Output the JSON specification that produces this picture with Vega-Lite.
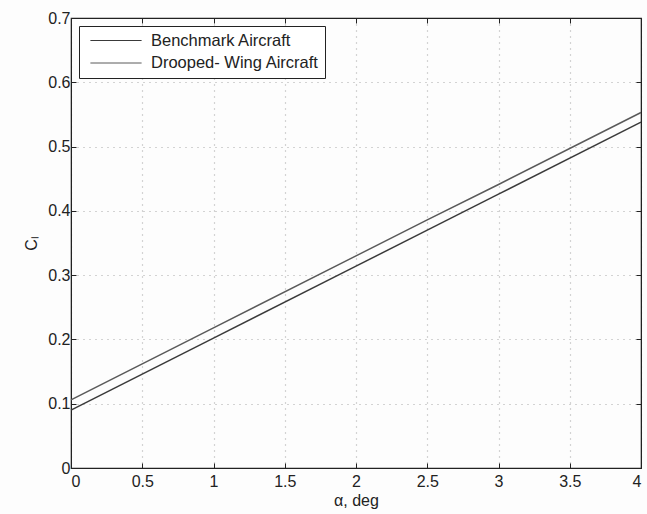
{
  "$schema": "https://vega.github.io/schema/vega-lite/v6.json",
  "width": 570,
  "height": 450,
  "autosize": "none",
  "padding": {"left": 71, "top": 18, "right": 6, "bottom": 46},
  "background": "#fdfdfd",
  "config": {
    "font": "Liberation Sans",
    "view": {"stroke": "#222", "strokeWidth": 1.2},
    "axis": {
      "labelFont": "Liberation Sans",
      "titleFont": "Liberation Sans",
      "labelColor": "#222",
      "titleColor": "#222",
      "titleFontWeight": "normal",
      "domainColor": "#222",
      "tickColor": "#222",
      "tickSize": -5,
      "gridColor": "#aaa",
      "gridDash": [1, 5],
      "gridWidth": 1.2
    }
  },
  "data": {
    "values": [
      {"alpha": 0, "CL": 0.090, "series": "Benchmark Aircraft"},
      {"alpha": 1, "CL": 0.202, "series": "Benchmark Aircraft"},
      {"alpha": 2, "CL": 0.314, "series": "Benchmark Aircraft"},
      {"alpha": 2.5, "CL": 0.370, "series": "Benchmark Aircraft"},
      {"alpha": 3, "CL": 0.426, "series": "Benchmark Aircraft"},
      {"alpha": 4, "CL": 0.538, "series": "Benchmark Aircraft"},
      {"alpha": 0, "CL": 0.106, "series": "Drooped- Wing Aircraft"},
      {"alpha": 1, "CL": 0.218, "series": "Drooped- Wing Aircraft"},
      {"alpha": 2, "CL": 0.330, "series": "Drooped- Wing Aircraft"},
      {"alpha": 2.5, "CL": 0.386, "series": "Drooped- Wing Aircraft"},
      {"alpha": 3, "CL": 0.441, "series": "Drooped- Wing Aircraft"},
      {"alpha": 4, "CL": 0.553, "series": "Drooped- Wing Aircraft"}
    ]
  },
  "layer": [
    {
      "mark": {"type": "line", "strokeWidth": 1.5},
      "encoding": {
        "x": {
          "field": "alpha", "type": "quantitative",
          "scale": {"domain": [0, 4], "nice": false},
          "axis": {"values": [0, 0.5, 1, 1.5, 2, 2.5, 3, 3.5, 4], "grid": true, "orient": "bottom", "title": "α, deg", "titlePadding": 3, "labelPadding": 10, "labelFontSize": 16, "titleFontSize": 16, "format": "~g"}
        },
        "y": {
          "field": "CL", "type": "quantitative",
          "scale": {"domain": [0, 0.7], "nice": false},
          "axis": {"values": [0, 0.1, 0.2, 0.3, 0.4, 0.5, 0.6, 0.7], "grid": true, "orient": "left", "title": "Cₗ", "titlePadding": 8, "labelPadding": 6, "labelFontSize": 16, "titleFontSize": 16, "format": "~g"}
        },
        "color": {
          "field": "series", "type": "nominal",
          "scale": {"domain": ["Benchmark Aircraft", "Drooped- Wing Aircraft"], "range": ["#3a3a3a", "#5a5a5a"]},
          "legend": {
            "title": null,
            "orient": "top-left",
            "offset": 8,
            "fillColor": "white",
            "strokeColor": "#222",
            "padding": 6,
            "labelFont": "Liberation Sans",
            "labelFontSize": 16.5,
            "labelLimit": 400,
            "labelColor": "#222",
            "symbolType": "M-3.2,0H3.2",
            "symbolSize": 256,
            "symbolStrokeWidth": 1,
            "symbolStrokeColor": "#555",
            "symbolOffset": 22.5,
            "rowPadding": 5.5,
            "labelOffset": 26.5
          }
        }
      }
    },
    {
      "mark": {"type": "line", "strokeOpacity": 0},
      "encoding": {
        "detail": {"field": "series", "type": "nominal"},
        "x": {
          "field": "alpha", "type": "quantitative",
          "axis": {"values": [0, 0.5, 1, 1.5, 2, 2.5, 3, 3.5, 4], "orient": "top", "labels": false, "title": null, "grid": false}
        },
        "y": {
          "field": "CL", "type": "quantitative",
          "axis": {"values": [0, 0.1, 0.2, 0.3, 0.4, 0.5, 0.6, 0.7], "orient": "right", "labels": false, "title": null, "grid": false}
        }
      }
    }
  ],
  "resolve": {"axis": {"x": "independent", "y": "independent"}}
}
